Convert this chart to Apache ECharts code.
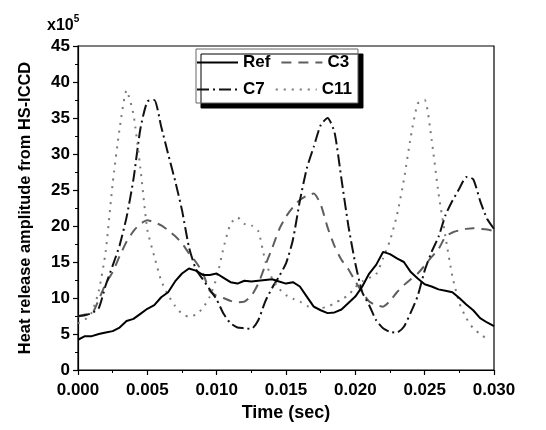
<!DOCTYPE html>
<html>
<head>
<meta charset="utf-8">
<script src="https://cdn.jsdelivr.net/npm/echarts@6/dist/echarts.min.js"></script>
<style>
html, body { margin: 0; padding: 0; background: #fff; }
#chart { width: 546px; height: 430px; }
</style>
</head>
<body>
<div id="chart"></div>
<script>
// time (sec)
const time = [
  0.0000, 0.0005, 0.0010, 0.0015, 0.0020, 0.0025, 0.0030, 0.0035, 0.0040, 0.0045,
  0.0050, 0.0055, 0.0060, 0.0065, 0.0070, 0.0075, 0.0080, 0.0085, 0.0090, 0.0095,
  0.0100, 0.0105, 0.0110, 0.0115, 0.0120, 0.0125, 0.0130, 0.0135, 0.0140, 0.0145,
  0.0150, 0.0155, 0.0160, 0.0165, 0.0170, 0.0175, 0.0180, 0.0185, 0.0190, 0.0195,
  0.0200, 0.0205, 0.0210, 0.0215, 0.0220, 0.0225, 0.0230, 0.0235, 0.0240, 0.0245,
  0.0250, 0.0255, 0.0260, 0.0265, 0.0270, 0.0275, 0.0280, 0.0285, 0.0290, 0.0295,
  0.0300
];
// amplitudes, x10^5
const ref = [
  4.2, 4.7, 4.7, 5.0, 5.2, 5.4, 5.9, 6.8, 7.1, 7.8,
  8.5, 9.0, 10.1, 10.8, 12.3, 13.4, 14.1, 13.8, 13.2, 13.2,
  13.4, 12.8, 12.2, 12.0, 12.4, 12.3, 12.4, 12.5, 12.6, 12.3,
  12.0, 12.2, 11.6, 10.2, 8.8, 8.3, 7.9, 8.0, 8.4, 9.3,
  10.2, 11.6, 13.4, 14.6, 16.4, 16.1, 15.5, 15.0, 13.6, 12.7,
  11.9, 11.6, 11.2, 11.0, 10.8, 10.0, 9.1, 8.3, 7.2, 6.6,
  6.1
];
const c3 = [
  7.4, 7.7, 7.8, 9.8, 12.0, 13.6, 15.8, 17.8, 19.3, 20.3,
  20.8, 20.5, 20.1, 19.4, 18.6, 17.6, 16.2, 15.0, 13.5, 11.0,
  10.3, 10.0, 9.6, 9.4, 9.5, 10.3, 12.0, 14.5, 16.9, 19.5,
  21.3, 22.6, 23.6, 24.2, 24.5, 23.0, 19.8, 17.2, 15.3, 14.0,
  12.3, 10.8, 9.5, 9.0, 8.8, 9.6, 10.8, 11.8, 12.6, 13.4,
  14.5, 15.7, 16.8, 18.5, 19.1, 19.4, 19.6, 19.7, 19.6, 19.5,
  19.3
];
const c7 = [
  7.5, 7.6, 7.9, 8.6, 11.8, 14.5, 17.3, 21.2, 26.5, 33.5,
  37.3, 37.5, 33.8, 30.0, 26.3, 22.2, 17.1, 14.0, 12.6, 11.2,
  9.8, 7.8, 6.5, 5.9, 5.8, 5.7, 6.9, 9.5, 11.4, 13.0,
  14.8, 18.1, 23.5, 28.0, 31.0, 34.0, 35.0, 33.0, 26.5, 20.0,
  14.8, 10.8, 9.0, 6.9, 5.8, 5.3, 5.2, 6.0, 8.0, 10.3,
  13.8, 16.4, 18.5, 21.5, 23.5, 25.2, 26.8, 26.5, 23.5, 21.0,
  19.6
];
const c11 = [
  6.5, 7.0, 8.0, 11.0, 16.5, 25.9, 33.5, 38.8, 35.5, 28.0,
  19.5, 15.8, 12.4, 10.4, 8.9, 7.8, 7.4, 7.7, 8.6, 10.2,
  12.8, 17.0, 20.3, 21.2, 20.3, 20.1, 19.3, 15.2, 12.7, 11.3,
  10.4, 9.9, 9.5, 8.9, 8.7, 8.6, 8.8, 9.3, 9.8, 10.4,
  11.5, 12.3, 12.8, 13.3, 15.5, 18.0, 21.5, 26.4, 32.4, 37.0,
  37.5, 32.0, 24.5, 18.5, 13.0, 9.3, 7.2, 5.8, 5.0, 4.3,
  null
];

const font = 'Arial, "Liberation Sans", sans-serif';

function pairs(vals) {
  return time.map((t, i) => [t, vals[i]]);
}

const chart = echarts.init(document.getElementById('chart'));

chart.setOption({
  animation: false,
  backgroundColor: '#fff',
  title: {
    text: '{b|x10}{s|5}',
    left: 42,
    top: 9,
    textStyle: {
      rich: {
        b: { fontFamily: font, fontWeight: 'bold', fontSize: 16, color: '#000', lineHeight: 20, verticalAlign: 'bottom' },
        s: { fontFamily: font, fontWeight: 'bold', fontSize: 10, color: '#000', lineHeight: 20, verticalAlign: 'top' }
      }
    }
  },
  legend: {
    data: ['Ref', 'C3', 'C7', 'C11'],
    orient: 'horizontal',
    left: 196,
    top: 49,
    width: 162,
    itemWidth: 41,
    itemHeight: 14,
    itemGap: 10,
    padding: [5, 6, 5, 0],
    backgroundColor: '#fff',
    borderColor: '#666',
    borderWidth: 1,
    shadowColor: '#000',
    shadowBlur: 0,
    shadowOffsetX: 5,
    shadowOffsetY: 5,
    itemStyle: { opacity: 0 },
    textStyle: { fontFamily: font, fontWeight: 'bold', fontSize: 17, lineHeight: 14, color: '#000' }
  },
  grid: {
    left: 78,
    right: 52,
    top: 46,
    bottom: 60,
    show: true,
    borderColor: '#000',
    borderWidth: 1.2,
    backgroundColor: 'transparent'
  },
  xAxis: {
    type: 'value',
    min: 0,
    max: 0.03,
    interval: 0.005,
    name: 'Time (sec)',
    nameLocation: 'middle',
    nameGap: 31,
    nameTextStyle: { fontFamily: font, fontWeight: 'bold', fontSize: 18, color: '#000' },
    axisLine: { show: true, onZero: false, lineStyle: { color: '#000', width: 1.2 } },
    axisTick: { show: true, inside: false, length: 5, lineStyle: { color: '#000', width: 1.2 } },
    minorTick: { show: true, splitNumber: 2, length: 3, lineStyle: { color: '#000', width: 1 } },
    axisLabel: {
      fontFamily: font, fontWeight: 'bold', fontSize: 17, color: '#000', margin: 12,
      showMinLabel: true, showMaxLabel: true,
      formatter: v => v.toFixed(3)
    },
    splitLine: { show: false }
  },
  yAxis: {
    type: 'value',
    min: 0,
    max: 45,
    interval: 5,
    name: 'Heat release amplitude from HS-ICCD',
    nameLocation: 'middle',
    nameRotate: 90,
    nameGap: 45,
    nameTextStyle: { fontFamily: font, fontWeight: 'bold', fontSize: 16.4, color: '#000' },
    axisLine: { show: true, onZero: false, lineStyle: { color: '#000', width: 1.2 } },
    axisTick: { show: true, inside: false, length: 5, lineStyle: { color: '#000', width: 1.2 } },
    minorTick: { show: true, splitNumber: 2, length: 3, lineStyle: { color: '#000', width: 1 } },
    axisLabel: { fontFamily: font, fontWeight: 'bold', fontSize: 17, color: '#000', margin: 8 },
    splitLine: { show: false }
  },
  series: [
    {
      name: 'Ref',
      type: 'line',
      symbol: 'none',
      data: pairs(ref),
      z: 5,
      itemStyle: { color: '#000' },
      lineStyle: { color: '#000', width: 2 }
    },
    {
      name: 'C3',
      type: 'line',
      symbol: 'none',
      smooth: 0.2,
      data: pairs(c3),
      itemStyle: { color: '#5e5e5e' },
      lineStyle: { color: '#5e5e5e', width: 2, type: [10, 7] }
    },
    {
      name: 'C7',
      type: 'line',
      symbol: 'none',
      smooth: 0.2,
      data: pairs(c7),
      itemStyle: { color: '#111' },
      lineStyle: { color: '#111', width: 2, type: [12, 4, 2, 4] }
    },
    {
      name: 'C11',
      type: 'line',
      symbol: 'none',
      smooth: 0.2,
      data: pairs(c11),
      itemStyle: { color: '#7a7a7a' },
      lineStyle: { color: '#7a7a7a', width: 2, type: [2, 6] }
    }
  ]
});
</script>
</body>
</html>
